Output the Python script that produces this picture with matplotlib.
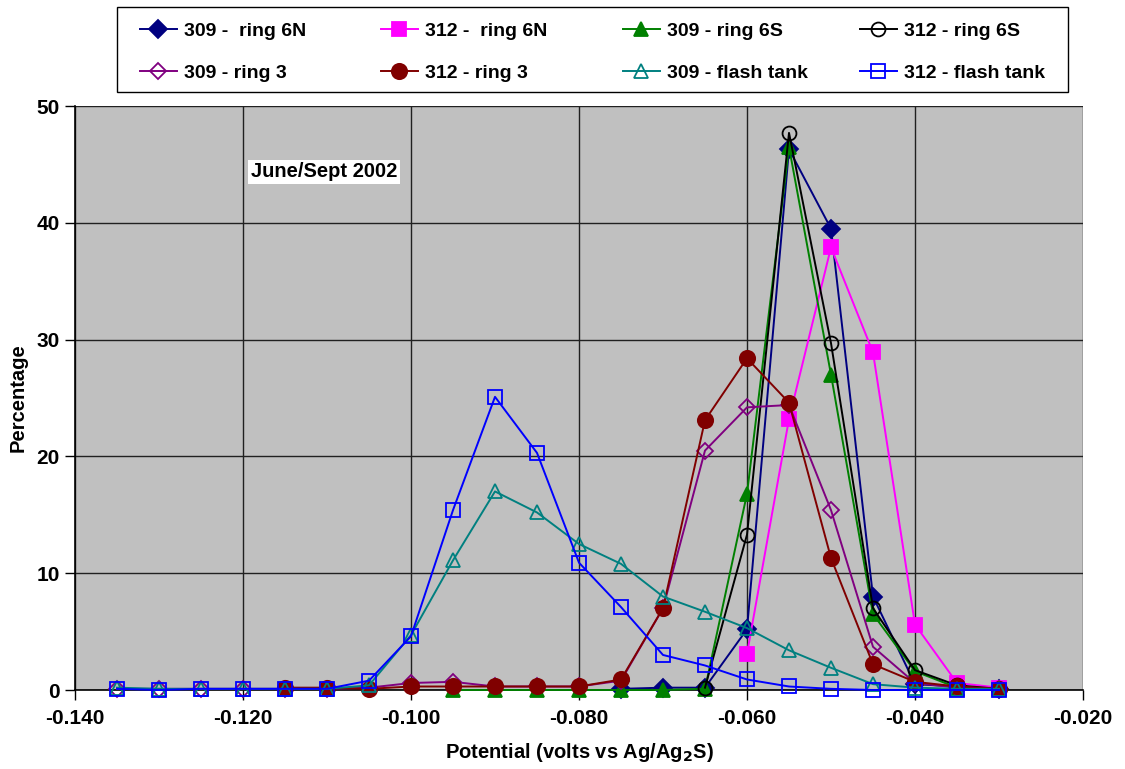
import matplotlib.pyplot as plt
from matplotlib.patches import Rectangle
import numpy as np

plt.rcParams['font.family'] = ['Liberation Sans', 'DejaVu Sans']
plt.rcParams['font.weight'] = 'bold'

nan = np.nan

potential = [-0.135, -0.130, -0.125, -0.120, -0.115, -0.110, -0.105, -0.100,
             -0.095, -0.090, -0.085, -0.080, -0.075, -0.070, -0.065, -0.060,
             -0.055, -0.050, -0.045, -0.040, -0.035, -0.030]

ring6n_309 = [nan, nan, nan, nan, nan, nan, nan, nan, nan, nan, nan, nan,
              0.1, 0.2, 0.2, 5.2, 46.3, 39.5, 8.0, 0.5, 0.3, 0.1]
ring6n_312 = [nan, nan, nan, nan, nan, nan, nan, nan, nan, nan, nan, nan,
              nan, nan, nan, 3.1, 23.2, 37.9, 28.9, 5.6, 0.6, 0.2]
ring6s_309 = [nan, nan, nan, nan, nan, nan, nan, nan, 0.0, 0.0, 0.0, 0.0,
              0.0, 0.0, 0.1, 16.8, 46.5, 27.0, 6.5, 1.6, 0.2, 0.1]
ring6s_312 = [nan, nan, nan, nan, nan, nan, nan, nan, nan, nan, nan, nan,
              nan, nan, 0.2, 13.3, 47.7, 29.7, 7.0, 1.7, 0.4, 0.1]
ring3_309 = [0.1, 0.1, 0.1, 0.1, 0.1, 0.1, 0.2, 0.6, 0.7, 0.3, 0.3, 0.3,
             0.8, 7.0, 20.5, 24.2, 24.4, 15.4, 3.7, 0.6, 0.2, 0.1]
ring3_312 = [nan, nan, nan, nan, 0.2, 0.2, 0.1, 0.3, 0.3, 0.3, 0.3, 0.3,
             0.9, 7.0, 23.1, 28.4, 24.6, 11.3, 2.2, 0.7, 0.3, 0.1]
flash_309 = [0.2, 0.1, 0.1, 0.1, 0.1, 0.1, 0.4, 4.7, 11.1, 17.0, 15.2, 12.5,
             10.8, 8.0, 6.7, 5.3, 3.4, 1.9, 0.5, 0.2, 0.1, 0.1]
flash_312 = [0.1, 0.0, 0.1, 0.1, 0.1, 0.1, 0.8, 4.6, 15.4, 25.1, 20.3, 10.9,
             7.1, 3.0, 2.1, 0.9, 0.3, 0.1, 0.0, 0.0, 0.0, 0.0]

series = [
    ('309 -  ring 6N', ring6n_309, '#000080', 'D', '#000080', 9),
    ('312 -  ring 6N', ring6n_312, '#FF00FF', 's', '#FF00FF', 10),
    ('309 - ring 6S', ring6s_309, '#008000', '^', '#008000', 10),
    ('312 - ring 6S', ring6s_312, '#000000', 'o', 'none', 10),
    ('309 - ring 3', ring3_309, '#800080', 'D', 'none', 8),
    ('312 - ring 3', ring3_312, '#800000', 'o', '#800000', 11),
    ('309 - flash tank', flash_309, '#008080', '^', 'none', 10),
    ('312 - flash tank', flash_312, '#0000FF', 's', 'none', 10),
]

W, H = 1125, 769
fig = plt.figure(figsize=(W / 100, H / 100), dpi=100)
ax = fig.add_axes([75 / W, 1 - 690 / H, 1008 / W, 584 / H])
ax.set_facecolor('#C0C0C0')

handles = []
for label, vals, color, marker, face, ms in series:
    (h,) = ax.plot(potential, vals, color=color, lw=1.4, marker=marker,
                   markersize=ms, markerfacecolor=face, markeredgecolor=color,
                   markeredgewidth=1.3, label=label, clip_on=False, zorder=3)
    handles.append(h)

ax.set_xlim(-0.140, -0.020)
ax.set_ylim(0, 50)
ax.set_xticks(np.arange(-0.140, -0.0199, 0.020))
ax.set_yticks(range(0, 51, 10))
ax.xaxis.set_major_formatter(plt.FormatStrFormatter('%.3f'))
ax.grid(True, color='#202020', lw=1.0, zorder=0)
ax.set_axisbelow(True)

for side in ['top', 'right']:
    ax.spines[side].set_visible(False)
for side in ['left', 'bottom']:
    ax.spines[side].set_color('black')
    ax.spines[side].set_linewidth(1.2)

ax.tick_params(axis='both', direction='out', length=7, width=1.0,
               labelsize=15, pad=4)
ax.tick_params(axis='x', pad=7)
for t in ax.get_xticklabels() + ax.get_yticklabels():
    t.set_fontweight('bold')

ax.set_xlabel('Potential (volts vs Ag/Ag$_\\mathbf{2}$S)', fontsize=14.5,
              fontweight='bold', labelpad=9)
ax.set_ylabel('Percentage', fontsize=14.5, fontweight='bold', labelpad=6)

ax.text(-0.1103, 44.35, 'June/Sept 2002', fontsize=14.5, fontweight='bold',
        ha='center', va='center',
        bbox=dict(facecolor='white', edgecolor='none', pad=2))

# legend frame, then one single-column legend per column
fig.patches.append(Rectangle((117 / W, 1 - 92 / H), 951 / W, 85 / H,
                             transform=fig.transFigure, facecolor='white',
                             edgecolor='black', lw=1.0, zorder=1))
col_x = [140, 381, 623, 860]
for c in range(4):
    idx = [c, c + 4]
    leg = fig.legend([handles[i] for i in idx], [series[i][0] for i in idx],
                     loc='center left',
                     bbox_to_anchor=(col_x[c] / W, 1 - 52 / H),
                     prop={'size': 14, 'weight': 'bold'}, frameon=False,
                     handlelength=1.9, handletextpad=0.35, labelspacing=1.25,
                     borderpad=0, borderaxespad=0)
    leg.set_zorder(2)

fig.savefig('out.png', dpi=100)
